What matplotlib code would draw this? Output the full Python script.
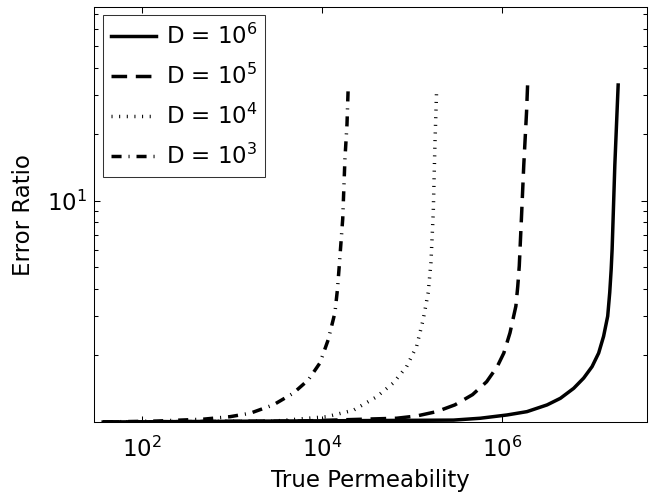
import matplotlib
matplotlib.use("Agg")
import matplotlib.pyplot as plt
import numpy as np

plt.rcParams['font.family'] = ['DejaVu Sans']
plt.rcParams['mathtext.fontset'] = 'custom'
plt.rcParams['mathtext.rm'] = 'DejaVu Sans'
plt.rcParams['mathtext.it'] = 'DejaVu Sans'
plt.rcParams['mathtext.bf'] = 'DejaVu Sans'
plt.rcParams['mathtext.default'] = 'regular'

# Data
x_d3 = [37, 146, 480, 950, 1585, 2880, 4800, 7050, 9500, 11750, 13930, 14860, 15560, 17000, 18000, 18970, 19600]
y_d3 = [1.0, 1.01, 1.03, 1.057, 1.095, 1.195, 1.35, 1.55, 1.85, 2.36, 3.12, 3.98, 5.08, 8.28, 15.5, 22.2, 33.4]

x_d4 = [37, 3000, 11300, 22300, 40500, 61900, 87300, 112700, 133500, 151700, 162700, 172600, 180000, 188000]
y_d4 = [1.0, 1.01, 1.057, 1.13, 1.30, 1.50, 1.78, 2.20, 2.91, 3.85, 5.27, 8.88, 17.8, 31.7]

x_d5 = [37, 5700, 67600, 113000, 188000, 300000, 472000, 676000, 887000, 1050000, 1230000, 1430000,
        1500000, 1560000, 1660000, 1750000, 1880000, 1930000]
y_d5 = [1.0, 1.01, 1.04, 1.065, 1.114, 1.195, 1.33, 1.52, 1.78, 2.05, 2.53, 3.34,
        4.1, 5.08, 8.88, 14.5, 25.3, 33.4]

x_d6 = [37, 290000, 575000, 1140000, 1900000, 3180000, 4470000, 6280000, 8110000, 10050000,
        11900000, 13500000, 15000000, 15800000, 16400000, 16800000, 18000000, 19600000]
y_d6 = [1.0, 1.02, 1.04, 1.076, 1.114, 1.195, 1.28, 1.42, 1.58, 1.78,
        2.05, 2.44, 3.01, 3.85, 4.91, 6.05, 14.5, 33.4]

labels = [r'D = $10^{6}$', r'D = $10^{5}$', r'D = $10^{4}$', r'D = $10^{3}$']
xticks = [1e2, 1e4, 1e6]

fig = plt.figure(figsize=(6.49, 4.98), dpi=100)
ax = fig.add_axes([0.1456, 0.1526, 0.8513, 0.8327])

lw = 2.5
ax.plot(x_d6, y_d6, color='black', lw=lw, linestyle='-', label=labels[0])
ax.plot(x_d5, y_d5, color='black', lw=lw, linestyle=(0, (4.5, 2.5)), label=labels[1])
ax.plot(x_d4, y_d4, color='black', lw=lw, linestyle=(0, (0.3, 1.9)), label=labels[2])
ax.plot(x_d3, y_d3, color='black', lw=lw, linestyle=(0, (2.9, 2.0, 0.3, 2.0)), label=labels[3])

ax.set_xscale('log')
ax.set_yscale('log')
ax.set_xlim(29.6, 4.1e7)
ax.set_ylim(1.0, 75)

ax.set_xticks(xticks)
ax.xaxis.set_minor_locator(matplotlib.ticker.NullLocator())
ax.yaxis.set_major_locator(matplotlib.ticker.FixedLocator([10]))
ax.yaxis.set_minor_locator(matplotlib.ticker.FixedLocator(
    [2, 3, 4, 5, 6, 7, 8, 9, 20, 30, 40, 50, 60, 70]))
ax.yaxis.set_minor_formatter(matplotlib.ticker.NullFormatter())

fs = 16.5
ax.tick_params(which='both', direction='in', top=True, right=True, labelsize=fs, width=0.75)
ax.tick_params(axis='x', which='both', pad=10.5)
ax.tick_params(axis='y', which='both', pad=5)
ax.tick_params(which='major', length=4.5)
ax.tick_params(which='minor', length=3)
for s in ax.spines.values():
    s.set_linewidth(0.75)

ax.set_xlabel('True Permeability', fontsize=fs, labelpad=5)
ax.set_ylabel('Error Ratio', fontsize=fs, labelpad=9)

leg = ax.legend(loc='upper left', fontsize=fs, frameon=True, fancybox=False,
                borderaxespad=0.35, handlelength=2.0, handletextpad=0.4,
                labelspacing=0.65, borderpad=0.35)
leg.get_frame().set_edgecolor('black')
leg.get_frame().set_linewidth(0.75)

fig.savefig('out.png', dpi=100)
